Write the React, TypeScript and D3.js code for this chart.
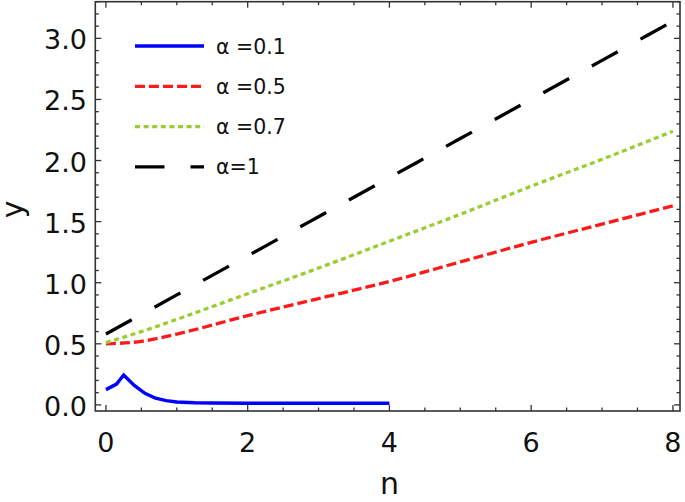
import React from 'react';
import * as d3 from 'd3';

// values
const nBlue = [0, 0.15, 0.25, 0.4, 0.55, 0.7, 0.85, 1.0, 1.25, 1.5, 2, 3, 4];
const yBlue = [0.125, 0.17, 0.245, 0.16, 0.095, 0.055, 0.035, 0.024, 0.017, 0.015, 0.014, 0.014, 0.014];

const nGrid = [0, 0.5, 1, 2, 3, 4, 5, 6, 7, 8];
const yRed = [0.5, 0.52, 0.58, 0.73, 0.87, 1.01, 1.17, 1.33, 1.48, 1.63];
const yGreen = [0.51, 0.6, 0.7, 0.91, 1.12, 1.34, 1.56, 1.79, 2.01, 2.24];
const yBlack = [0.58, 0.74, 0.9, 1.22, 1.54, 1.86, 2.18, 2.5, 2.82, 3.14];

const xTicks = [0, 2, 4, 6, 8];
const yTicks = [0, 0.5, 1, 1.5, 2, 2.5, 3];

const series = [
  { label: 'α =0.1', n: nBlue, y: yBlue, color: '#0000ff', dash: '', width: 3.4, curve: d3.curveLinear },
  { label: 'α =0.5', n: nGrid, y: yRed, color: '#ff1a1a', dash: '10 4', width: 3.3, curve: d3.curveMonotoneX },
  { label: 'α =0.7', n: nGrid, y: yGreen, color: '#9acd32', dash: '5 3.6', width: 3.3, curve: d3.curveMonotoneX },
  { label: 'α=1', n: nGrid, y: yBlack, color: '#000000', dash: '29.5 26', width: 3.3, curve: d3.curveMonotoneX },
];

const W = 685;
const H = 502;
const L = 95.3, R = 680, T = 1.7, B = 411;

export default function App() {
  const x = d3.scaleLinear().domain([-0.15, 8.1]).range([L, R]);
  const y = d3.scaleLinear().domain([-0.05, 3.3]).range([B, T]);

  const xMinor = d3.range(0, 8.01, 0.5);
  const yMinor = d3.range(0, 3.301, 0.1).map(v => +v.toFixed(2));

  const font = 'DejaVu Sans, sans-serif';

  return (
    <svg width={W} height={H} style={{ position: 'absolute', left: 0, top: 0, background: '#fff' }}
      fontFamily={font}>
      <defs>
        <clipPath id="plot">
          <rect x={L} y={T} width={R - L} height={B - T} />
        </clipPath>
      </defs>

      {/* curves */}
      <g clipPath="url(#plot)" fill="none">
        {series.map(s => {
          const pts = s.n.map((v, i) => [v, s.y[i]] as [number, number]);
          const line = d3.line<[number, number]>()
            .x(d => x(d[0]))
            .y(d => y(d[1]))
            .curve(s.curve);
          return (
            <path key={s.label} d={line(pts) || ''} stroke={s.color}
              strokeWidth={s.width} strokeDasharray={s.dash || undefined} />
          );
        })}
      </g>

      {/* ticks, inward on all four sides */}
      <g stroke="#333" strokeWidth={1.3}>
        {xMinor.map(v => {
          const major = v % 2 === 0;
          const len = major ? 6 : 3.5;
          return (
            <g key={'x' + v}>
              <line x1={x(v)} x2={x(v)} y1={B} y2={B - len} />
              <line x1={x(v)} x2={x(v)} y1={T} y2={T + len} />
            </g>
          );
        })}
        {yMinor.map(v => {
          const major = Math.abs(v * 2 - Math.round(v * 2)) < 1e-6;
          const len = major ? 6 : 3.5;
          return (
            <g key={'y' + v}>
              <line x1={L} x2={L + len} y1={y(v)} y2={y(v)} />
              <line x1={R} x2={R - len} y1={y(v)} y2={y(v)} />
            </g>
          );
        })}
      </g>

      {/* frame */}
      <rect x={L} y={T} width={R - L} height={B - T} fill="none" stroke="#333" strokeWidth={1.6} />

      {/* tick labels */}
      <g fontSize={27} fill="#111">
        {xTicks.map(v => (
          <text key={'xl' + v} x={x(v)} y={452} textAnchor="middle">{v}</text>
        ))}
        {yTicks.map(v => (
          <text key={'yl' + v} x={87} y={y(v) + 11} textAnchor="end">{v.toFixed(1)}</text>
        ))}
      </g>

      {/* axis labels */}
      <text x={x(4)} y={494} fontSize={30} textAnchor="middle" fill="#111">n</text>
      <text transform={`translate(23,${y(1.6)}) rotate(-90)`} fontSize={30} textAnchor="middle" fill="#111">y</text>

      {/* legend */}
      <g>
        {series.map((s, i) => {
          const ly = 46 + i * 40.3;
          return (
            <g key={'lg' + s.label}>
              <line x1={135} x2={204} y1={ly} y2={ly} stroke={s.color}
                strokeWidth={s.width} strokeDasharray={s.dash || undefined} />
              <text x={216} y={ly + 7.5} fontSize={20.5} fill="#111">{s.label}</text>
            </g>
          );
        })}
      </g>
    </svg>
  );
}
